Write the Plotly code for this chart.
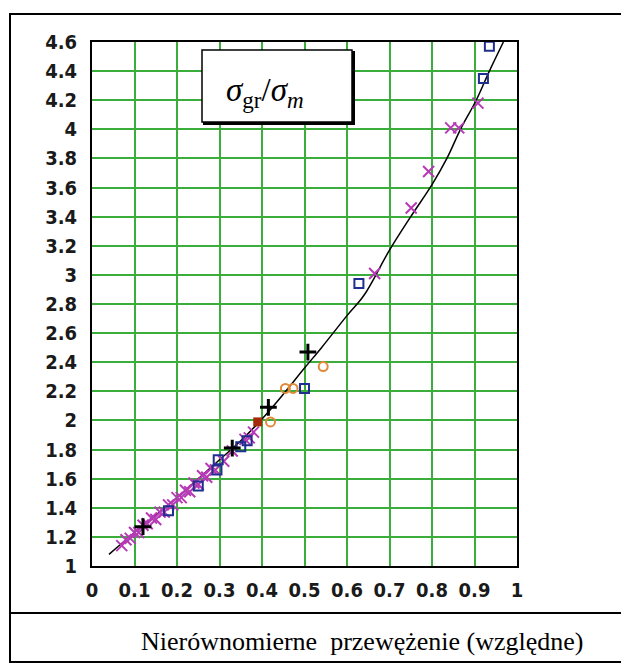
import plotly.graph_objects as go

# ---- data ----
curve_x = [0.04, 0.1, 0.2, 0.3, 0.35, 0.4, 0.45, 0.5, 0.54, 0.6, 0.64, 0.70, 0.75, 0.80, 0.835, 0.867, 0.904, 0.935, 0.968]
curve_y = [1.08, 1.23, 1.47, 1.73, 1.86, 2.01, 2.18, 2.36, 2.50, 2.72, 2.86, 3.17, 3.40, 3.62, 3.80, 4.00, 4.20, 4.40, 4.60]

magenta_x = [0.07, 0.08, 0.09, 0.10, 0.11, 0.12, 0.13, 0.14, 0.15, 0.16, 0.17, 0.18, 0.19, 0.20, 0.21,
             0.22, 0.23, 0.24, 0.25, 0.26, 0.27, 0.28, 0.29, 0.31, 0.33, 0.36, 0.37, 0.38,
             0.665, 0.751, 0.792, 0.844, 0.863, 0.908]
magenta_y = [1.14, 1.18, 1.19, 1.23, 1.23, 1.28, 1.29, 1.33, 1.32, 1.37, 1.37, 1.42, 1.42, 1.47, 1.47,
             1.52, 1.51, 1.57, 1.56, 1.62, 1.61, 1.67, 1.66, 1.72, 1.79, 1.87, 1.88, 1.92,
             3.01, 3.46, 3.71, 4.01, 4.01, 4.18]

square_x = [0.18, 0.25, 0.294, 0.297, 0.35, 0.365, 0.50, 0.628, 0.921, 0.935]
square_y = [1.38, 1.55, 1.66, 1.73, 1.82, 1.86, 2.22, 2.94, 4.35, 4.57]

circle_x = [0.42, 0.455, 0.473, 0.544]
circle_y = [1.99, 2.22, 2.22, 2.37]

plus_x = [0.12, 0.33, 0.415, 0.508]
plus_y = [1.27, 1.81, 2.09, 2.47]

red_x = [0.39]
red_y = [1.99]

x_ticks = [0, 0.1, 0.2, 0.3, 0.4, 0.5, 0.6, 0.7, 0.8, 0.9, 1]
y_ticks = [1, 1.2, 1.4, 1.6, 1.8, 2, 2.2, 2.4, 2.6, 2.8, 3, 3.2, 3.4, 3.6, 3.8, 4, 4.2, 4.4, 4.6]
x_label = "Nierównomierne  przewężenie (względne)"
title_text = "<i>σ</i><sub>gr</sub>/<i>σ</i><sub><i>m</i></sub>"

# ---- figure (page body adds an 8px offset) ----
W, H = 621, 657
L, R, T, B = 84, 509, 34, 558  # plot area in figure pixels

def px(x):
    return (x - L) / (R - L)

def py(y):
    return (B - y) / (B - T)

fig = go.Figure()

fig.add_trace(go.Scatter(x=curve_x, y=curve_y, mode="lines",
                         line=dict(color="black", width=1.5), line_shape="spline",
                         showlegend=False))
fig.add_trace(go.Scatter(x=magenta_x, y=magenta_y, mode="markers",
                         marker=dict(symbol="x-thin-open", size=11, color="#b63ab6",
                                     line=dict(width=2, color="#b63ab6")),
                         showlegend=False))
fig.add_trace(go.Scatter(x=square_x, y=square_y, mode="markers",
                         marker=dict(symbol="square-open", size=9, color="#1f2f8f",
                                     line=dict(width=2, color="#1f2f8f")),
                         showlegend=False))
fig.add_trace(go.Scatter(x=circle_x, y=circle_y, mode="markers",
                         marker=dict(symbol="circle-open", size=9, color="#e08a3a",
                                     line=dict(width=2, color="#e08a3a")),
                         showlegend=False))
fig.add_trace(go.Scatter(x=red_x, y=red_y, mode="markers",
                         marker=dict(symbol="square", size=9, color="#a52a0a"),
                         showlegend=False))
fig.add_trace(go.Scatter(x=plus_x, y=plus_y, mode="markers",
                         marker=dict(symbol="cross-thin-open", size=12, color="black",
                                     line=dict(width=3, color="black")),
                         showlegend=False))

tickfont = dict(family="Liberation Sans Narrow, DejaVu Sans Condensed, Liberation Sans",
                size=20, color="#1a1a1a", weight="bold")
fig.update_xaxes(range=[0, 1], tickvals=x_ticks, ticktext=[f"{v:g}" for v in x_ticks],
                 showgrid=True, gridcolor="#3aad3a", gridwidth=2, zeroline=False,
                 showline=True, linecolor="black", linewidth=2, mirror=True,
                 ticks="", tickfont=tickfont, ticklabelstandoff=5)
fig.update_yaxes(range=[1, 4.6], tickvals=y_ticks, ticktext=[f"{v:g}" for v in y_ticks],
                 showgrid=True, gridcolor="#3aad3a", gridwidth=2, zeroline=False,
                 showline=True, linecolor="black", linewidth=2, mirror=True,
                 ticks="", tickfont=tickfont, ticklabelstandoff=9)

shapes = [
    # outer frame
    dict(type="rect", xref="paper", yref="paper", x0=px(2), x1=px(660), y0=py(654), y1=py(6),
         line=dict(color="black", width=2), layer="above"),
    dict(type="line", xref="paper", yref="paper", x0=px(2), x1=px(660), y0=py(605), y1=py(605),
         line=dict(color="black", width=2), layer="above"),
    # title box shadow and box
    dict(type="rect", xref="paper", yref="paper", x0=px(196), x1=px(346), y0=py(116), y1=py(44),
         line=dict(color="black", width=2), fillcolor="black", layer="above"),
    dict(type="rect", xref="paper", yref="paper", x0=px(194), x1=px(344), y0=py(114), y1=py(42),
         line=dict(color="black", width=1.5), fillcolor="white", layer="above"),
]

annotations = [
    dict(xref="paper", yref="paper", x=px(257), y=py(84), text=title_text, showarrow=False,
         font=dict(family="Liberation Serif", size=33, color="black"), xanchor="center", yanchor="middle"),
    dict(xref="paper", yref="paper", x=px(354), y=py(633), text=x_label, showarrow=False,
         font=dict(family="Liberation Serif", size=26, color="black"), xanchor="center", yanchor="middle"),
]

fig.update_layout(width=W, height=H, margin=dict(l=L, r=W - R, t=T, b=H - B),
                  paper_bgcolor="white", plot_bgcolor="white",
                  shapes=shapes, annotations=annotations, showlegend=False)

fig.write_html("out.html")
